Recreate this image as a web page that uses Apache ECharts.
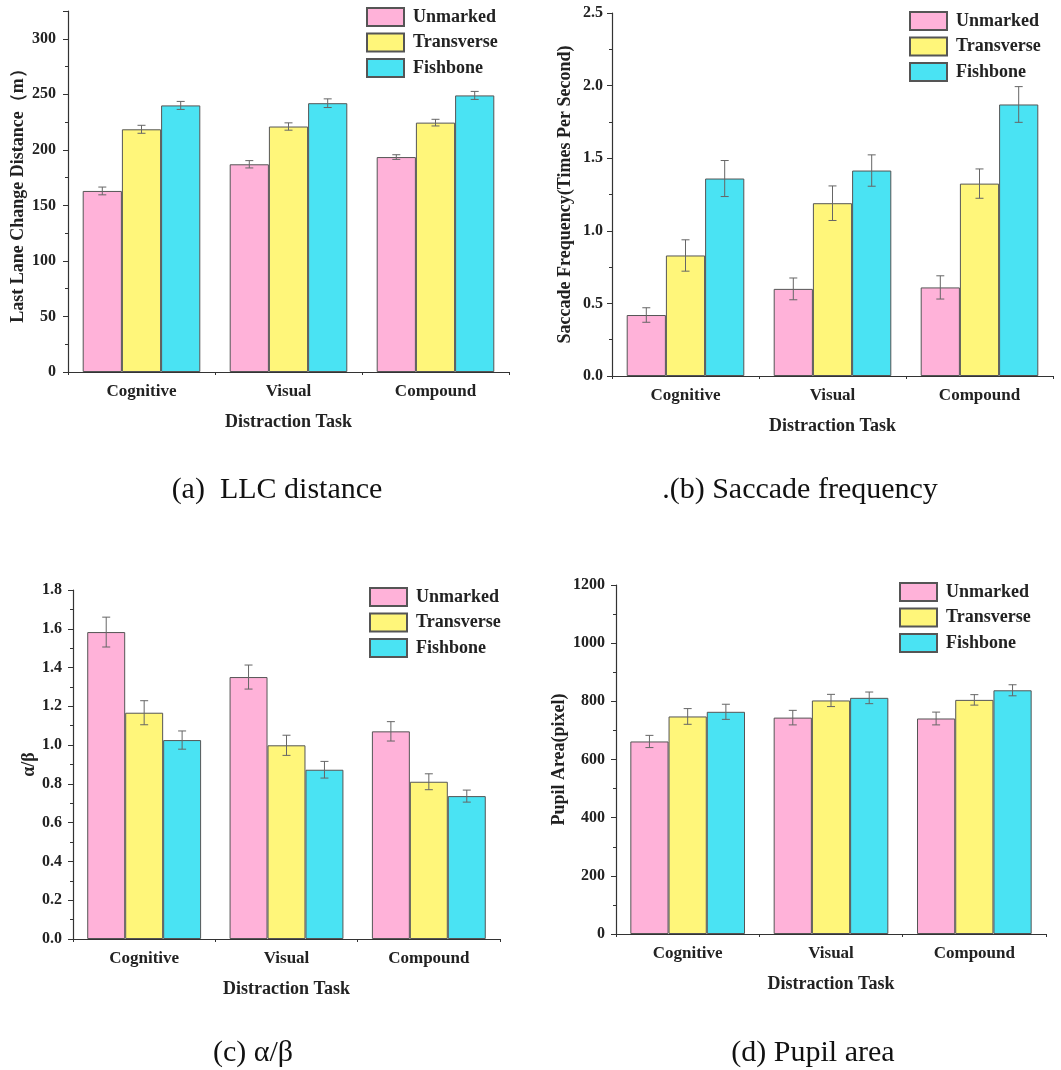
<!DOCTYPE html>
<html><head><meta charset="utf-8">
<script src="https://cdn.jsdelivr.net/npm/echarts@6/dist/echarts.min.js"></script>
<style>html,body{margin:0;padding:0;background:#fff}#c{width:1061px;height:1070px}</style>
</head><body><div id="c"></div>
<script>
const categories = ['Cognitive', 'Visual', 'Compound'];
const seriesNames = ['Unmarked', 'Transverse', 'Fishbone'];

const llcUnmarked = [163, 187, 193.5];
const llcTransverse = [218.5, 221, 224.5];
const llcFishbone = [240, 242, 249];
const llcErrUnmarked = [3.5, 3.3, 2.1];
const llcErrTransverse = [3.6, 3.3, 3.0];
const llcErrFishbone = [3.6, 3.9, 3.6];

const sacUnmarked = [0.42, 0.60, 0.61];
const sacTransverse = [0.83, 1.19, 1.325];
const sacFishbone = [1.36, 1.415, 1.87];
const sacErrUnmarked = [0.05, 0.075, 0.08];
const sacErrTransverse = [0.108, 0.119, 0.101];
const sacErrFishbone = [0.124, 0.108, 0.123];

const abUnmarked = [1.583, 1.351, 1.071];
const abTransverse = [1.167, 0.999, 0.811];
const abFishbone = [1.026, 0.873, 0.737];
const abErrUnmarked = [0.077, 0.062, 0.05];
const abErrTransverse = [0.062, 0.052, 0.041];
const abErrFishbone = [0.047, 0.043, 0.031];

const pupUnmarked = [662, 744, 741];
const pupTransverse = [748, 803, 805];
const pupFishbone = [764, 812, 838];
const pupErrUnmarked = [21, 25, 22];
const pupErrTransverse = [27, 21, 18];
const pupErrFishbone = [26, 20, 19];

const panels = [
  {vals: [llcUnmarked, llcTransverse, llcFishbone], errs: [llcErrUnmarked, llcErrTransverse, llcErrFishbone],
   max: 325, interval: 50, dec: 0, yName: 'Last Lane Change Distance（m）', yGap: 41, labelMargin: 12,
   grid: {left: 68, top: 11, width: 441, height: 361}, legend: {left: 366, top: 7}},
  {vals: [sacUnmarked, sacTransverse, sacFishbone], errs: [sacErrUnmarked, sacErrTransverse, sacErrFishbone],
   max: 2.5, interval: 0.5, dec: 1, yName: 'Saccade Frequency(Times Per Second)', yGap: 38, labelMargin: 9,
   grid: {left: 612, top: 13, width: 441, height: 363}, legend: {left: 909, top: 11}},
  {vals: [abUnmarked, abTransverse, abFishbone], errs: [abErrUnmarked, abErrTransverse, abErrFishbone],
   max: 1.8, interval: 0.2, dec: 1, yName: 'α/β', yGap: 32, labelMargin: 11,
   grid: {left: 73, top: 590, width: 427, height: 349}, legend: {left: 369, top: 587}},
  {vals: [pupUnmarked, pupTransverse, pupFishbone], errs: [pupErrUnmarked, pupErrTransverse, pupErrFishbone],
   max: 1200, interval: 200, dec: 0, yName: 'Pupil Area(pixel)', yGap: 48, labelMargin: 11,
   grid: {left: 616, top: 585, width: 430, height: 349}, legend: {left: 899, top: 582}}
];

const colors = ['#FFB2D9', '#FFF67A', '#4AE3F3'];
const serif = '"Liberation Serif", "Times New Roman", serif';
const axisColor = '#333';
const textColor = '#222';

function renderErr(params, api) {
  const ci = api.value(0), v = api.value(1), e = api.value(2), si = api.value(3);
  const band = api.size([1, 0])[0];
  const bw = band * 0.8 / 3;
  const cx = api.coord([ci, v])[0] + (si - 1) * bw;
  const yT = api.coord([ci, v + e])[1];
  const yB = api.coord([ci, v - e])[1];
  const cap = 4;
  const st = {stroke: '#666', lineWidth: 1};
  return {type: 'group', children: [
    {type: 'line', shape: {x1: cx, y1: yT, x2: cx, y2: yB}, style: st},
    {type: 'line', shape: {x1: cx - cap, y1: yT, x2: cx + cap, y2: yT}, style: st},
    {type: 'line', shape: {x1: cx - cap, y1: yB, x2: cx + cap, y2: yB}, style: st}
  ]};
}

const grid = [], xAxis = [], yAxis = [], series = [], legend = [];
panels.forEach((p, gi) => {
  grid.push(Object.assign({}, p.grid));
  xAxis.push({
    type: 'category', gridIndex: gi, data: categories, position: 'bottom',
    name: 'Distraction Task', nameLocation: 'middle', nameGap: 41,
    nameTextStyle: {fontFamily: serif, fontWeight: 'bold', fontSize: 18, color: textColor},
    axisLine: {lineStyle: {color: axisColor, width: 1.2}},
    axisTick: {alignWithLabel: true, length: 6, lineStyle: {color: axisColor}},
    axisLabel: {fontFamily: serif, fontWeight: 'bold', fontSize: 17, color: textColor, margin: 11}
  });
  yAxis.push({
    type: 'value', gridIndex: gi, min: 0, max: p.max, interval: p.interval,
    name: p.yName, nameLocation: 'middle', nameGap: p.yGap,
    nameTextStyle: {fontFamily: serif, fontWeight: 'bold', fontSize: 18, color: textColor},
    axisLine: {show: true, lineStyle: {color: axisColor, width: 1.2}},
    axisTick: {show: true, length: 5, lineStyle: {color: axisColor}},
    minorTick: {show: true, splitNumber: 2, length: 3, lineStyle: {color: axisColor}},
    splitLine: {show: false},
    axisLabel: {fontFamily: serif, fontWeight: 'bold', fontSize: 16, color: textColor, margin: p.labelMargin,
      formatter: v => {
        const k = v / p.interval;
        return Math.abs(k - Math.round(k)) < 1e-6 ? v.toFixed(p.dec) : '';
      }}
  });
  legend.push({
    orient: 'vertical', left: p.legend.left, top: p.legend.top, padding: 0,
    itemWidth: 37, itemHeight: 18, itemGap: 5.5, selectedMode: false, icon: 'rect',
    data: seriesNames,
    textStyle: {fontFamily: serif, fontWeight: 'bold', fontSize: 18, lineHeight: 18, color: textColor, padding: [0, 0, 0, 4]}
  });
});
panels.forEach((p, gi) => {
  xAxis.push({
    type: 'category', gridIndex: gi, data: categories, position: 'bottom',
    axisLine: {show: false}, axisLabel: {show: false},
    axisTick: {show: true, length: 3, lineStyle: {color: axisColor}}
  });
});

panels.forEach((p, gi) => {
  seriesNames.forEach((n, si) => {
    series.push({
      type: 'bar', name: n, xAxisIndex: gi, yAxisIndex: gi,
      data: p.vals[si], barCategoryGap: '20%', barGap: '0%',
      itemStyle: {color: colors[si], borderColor: '#555', borderWidth: 1}
    });
  });
  const errData = [];
  seriesNames.forEach((n, si) => {
    categories.forEach((c, ci) => errData.push([ci, p.vals[si][ci], p.errs[si][ci], si]));
  });
  series.push({
    type: 'custom', xAxisIndex: gi, yAxisIndex: gi, renderItem: renderErr,
    data: errData, encode: {x: 0, y: 1}, z: 10, silent: true
  });
});

const captions = [
  {text: '(a)  LLC distance', x: 277, y: 490},
  {text: '.(b) Saccade frequency', x: 800, y: 490},
  {text: '(c) α/β', x: 253, y: 1053},
  {text: '(d) Pupil area', x: 813, y: 1053}
];
const graphic = captions.map(c => ({
  type: 'text', x: c.x, y: c.y,
  style: {text: c.text, fontFamily: serif, fontSize: 30, fill: '#111', textAlign: 'center', textVerticalAlign: 'middle'}
}));

const chart = echarts.init(document.getElementById('c'), null, {renderer: 'canvas'});
chart.setOption({
  animation: false, backgroundColor: '#fff',
  grid, xAxis, yAxis, series, legend, graphic
});
</script></body></html>
